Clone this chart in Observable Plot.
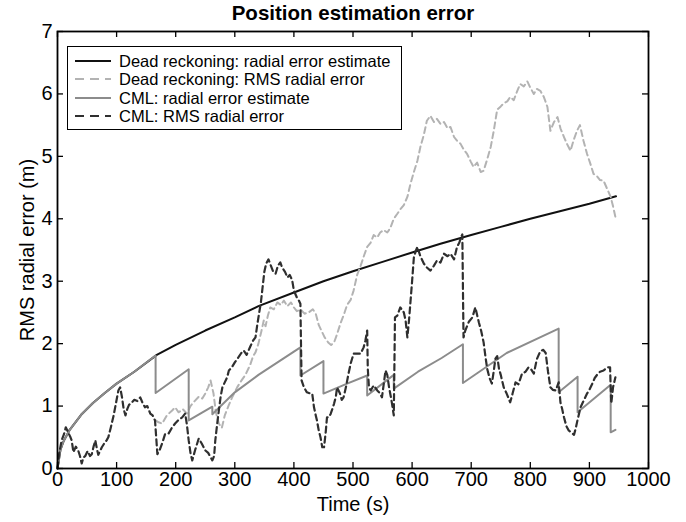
<!DOCTYPE html>
<html>
<head>
<meta charset="utf-8">
<script src="https://cdn.jsdelivr.net/npm/d3@7"></script>
<script src="https://cdn.jsdelivr.net/npm/@observablehq/plot@0.6"></script>
<style>
  body { margin: 0; background: #fff; }
  #wrap { position: relative; width: 686px; height: 522px; font-family: "Liberation Sans", Arial, Helvetica, sans-serif; }
  #legend { position: absolute; left: 67px; top: 46px; width: 335px; height: 84px; border: 1px solid #000; background: #fff; box-sizing: border-box; }
  #legend .row { position: absolute; left: 0; height: 18px; display: flex; align-items: center; font-size: 16.5px; color: #000; white-space: nowrap; }
  #legend svg { margin-left: 7px; margin-right: 8px; }
</style>
</head>
<body>
<div id="wrap"></div>
<script>
// Time axis ticks (s) and error axis ticks (m)
const xTicks = [0, 100, 200, 300, 400, 500, 600, 700, 800, 900, 1000];
const yTicks = [0, 1, 2, 3, 4, 5, 6, 7];

const titleText = "Position estimation error";
const xLabel = "Time (s)";
const yLabel = "RMS radial error (m)";

const seriesNames = [
  "Dead reckoning: radial error estimate",
  "Dead reckoning: RMS radial error",
  "CML: radial error estimate",
  "CML: RMS radial error"
];

// Dead reckoning: radial error estimate
const drEstT = [0, 5, 10, 20, 40, 60, 80, 100, 130, 168, 200, 250, 300, 340, 400, 450, 500, 550, 600, 648, 700, 750, 800, 850, 900, 945];
const drEstV = [0, 0.30, 0.43, 0.61, 0.86, 1.05, 1.21, 1.36, 1.55, 1.82, 1.98, 2.21, 2.42, 2.60, 2.82, 3.00, 3.16, 3.31, 3.46, 3.60, 3.74, 3.87, 4.00, 4.12, 4.24, 4.36];

// Dead reckoning: RMS radial error (after the first CML update it separates from the CML run)
const drRmsT = [166, 171, 177, 185, 194, 199, 205, 212, 219, 225, 232, 239, 245, 250, 255, 259, 264, 268, 273, 278, 283, 290, 296, 304, 312, 318, 326, 331, 335, 340, 345, 349, 352, 356, 360, 366, 372, 378, 383, 389, 395, 400, 405, 411, 418, 425, 432, 437, 442, 447, 452, 458, 463, 468, 473, 479, 484, 490, 496, 501, 507, 513, 519, 524, 530, 535, 541, 546, 552, 558, 563, 569, 575, 580, 586, 592, 597, 603, 609, 614, 620, 625, 631, 637, 642, 648, 654, 660, 665, 671, 676, 682, 688, 693, 699, 704, 710, 716, 721, 727, 733, 738, 744, 750, 755, 761, 766, 772, 778, 783, 789, 795, 800, 806, 811, 817, 823, 829, 834, 840, 846, 851, 857, 862, 868, 873, 879, 884, 890, 896, 901, 907, 913, 918, 924, 930, 936, 940, 944];
const drRmsV = [0.77, 0.74, 0.72, 0.85, 0.93, 0.98, 0.90, 0.95, 0.88, 1.00, 1.08, 1.15, 1.12, 1.20, 1.30, 1.41, 1.20, 0.90, 0.72, 0.65, 0.85, 1.02, 1.15, 1.30, 1.42, 1.50, 1.66, 1.80, 1.86, 2.00, 2.20, 2.37, 2.28, 2.45, 2.58, 2.55, 2.66, 2.62, 2.69, 2.60, 2.66, 2.58, 2.52, 2.55, 2.48, 2.50, 2.55, 2.48, 2.30, 2.20, 2.10, 2.02, 1.98, 2.02, 2.15, 2.33, 2.45, 2.62, 2.70, 2.85, 3.10, 3.25, 3.42, 3.55, 3.62, 3.74, 3.70, 3.78, 3.82, 3.78, 3.85, 4.00, 4.08, 4.15, 4.22, 4.35, 4.55, 4.75, 4.93, 5.15, 5.35, 5.57, 5.65, 5.55, 5.60, 5.52, 5.55, 5.45, 5.47, 5.31, 5.25, 5.20, 5.10, 5.04, 4.92, 4.83, 4.90, 4.75, 4.77, 4.95, 5.15, 5.40, 5.75, 5.80, 5.85, 5.88, 5.95, 5.90, 6.05, 6.16, 6.12, 6.20, 6.10, 6.00, 6.08, 6.05, 5.95, 5.79, 5.41, 5.55, 5.63, 5.45, 5.31, 5.20, 5.09, 5.25, 5.41, 5.50, 5.25, 5.04, 4.90, 4.72, 4.68, 4.62, 4.61, 4.48, 4.35, 4.20, 4.03];

// CML: radial error estimate (sawtooth: drops at each feature update)
const cmlEstT = [0, 5, 10, 20, 40, 60, 80, 100, 130, 166, 166, 222, 222, 262, 262, 300, 340, 411, 411, 450, 450, 490, 524, 524, 569, 569, 610, 650, 686, 686, 760, 848, 848, 880, 880, 936, 936, 944];
const cmlEstV = [0, 0.30, 0.43, 0.61, 0.86, 1.05, 1.21, 1.36, 1.55, 1.81, 1.21, 1.59, 0.77, 0.99, 0.87, 1.22, 1.50, 1.94, 1.49, 1.72, 1.20, 1.36, 1.49, 1.17, 1.50, 1.28, 1.55, 1.77, 1.99, 1.37, 1.85, 2.24, 1.22, 1.47, 0.90, 1.34, 0.58, 0.62];

// CML: RMS radial error
const cmlRmsT = [0, 3, 7, 11, 14, 18, 22, 24, 27, 31, 35, 38, 41, 44, 47, 51, 55, 58, 61, 64, 67, 69, 72, 75, 79, 83, 86, 90, 95, 99, 103, 106, 109, 112, 115, 118, 121, 125, 130, 135, 140, 144, 148, 152, 157, 161, 165, 167, 169, 173, 177, 182, 188, 194, 199, 205, 211, 216, 219, 222, 225, 228, 233, 239, 244, 250, 255, 262, 265, 267, 270, 273, 276, 279, 283, 287, 290, 295, 300, 306, 311, 315, 320, 326, 331, 335, 338, 341, 344, 347, 350, 353, 357, 361, 365, 369, 373, 377, 380, 385, 389, 393, 397, 400, 405, 409, 411, 412, 413, 417, 422, 428, 431, 434, 437, 439, 442, 445, 448, 451, 454, 456, 459, 462, 465, 468, 471, 473, 478, 481, 484, 488, 492, 496, 501, 507, 513, 518, 521, 524, 525, 527, 530, 535, 541, 546, 549, 552, 555, 558, 561, 564, 566, 569, 570, 571, 575, 580, 586, 589, 592, 595, 597, 600, 603, 606, 609, 614, 620, 625, 631, 637, 642, 648, 654, 660, 665, 671, 676, 680, 683, 685, 686, 687, 690, 696, 702, 707, 713, 717, 721, 724, 727, 731, 735, 738, 741, 744, 747, 750, 755, 760, 766, 770, 775, 780, 786, 792, 797, 802, 806, 811, 817, 822, 826, 830, 834, 838, 843, 848, 851, 854, 857, 861, 865, 869, 874, 877, 880, 885, 890, 896, 901, 905, 909, 913, 918, 924, 930, 935, 936, 937, 940, 944];
const cmlRmsV = [0.00, 0.25, 0.45, 0.55, 0.66, 0.58, 0.50, 0.45, 0.26, 0.35, 0.29, 0.20, 0.08, 0.18, 0.20, 0.28, 0.20, 0.23, 0.35, 0.45, 0.30, 0.22, 0.28, 0.34, 0.40, 0.45, 0.50, 0.65, 0.85, 1.05, 1.25, 1.30, 1.15, 0.95, 0.85, 0.95, 1.02, 1.05, 1.10, 1.08, 1.14, 1.05, 0.98, 1.00, 0.88, 0.85, 0.77, 0.50, 0.23, 0.30, 0.40, 0.55, 0.56, 0.66, 0.72, 0.78, 0.82, 0.88, 0.70, 0.45, 0.25, 0.13, 0.30, 0.48, 0.40, 0.29, 0.25, 0.13, 0.20, 0.45, 0.70, 0.93, 1.15, 1.30, 1.38, 1.46, 1.57, 1.62, 1.70, 1.78, 1.85, 1.89, 1.82, 1.95, 2.05, 2.10, 2.30, 2.48, 2.65, 2.90, 3.15, 3.28, 3.35, 3.25, 3.15, 3.12, 3.25, 3.30, 3.22, 3.15, 3.06, 3.10, 3.02, 2.85, 2.74, 2.68, 2.64, 2.00, 1.41, 1.30, 1.22, 1.20, 1.20, 0.98, 0.85, 0.77, 0.61, 0.50, 0.34, 0.34, 0.60, 0.82, 0.82, 0.87, 0.95, 1.04, 1.15, 1.30, 1.20, 1.10, 1.14, 1.30, 1.50, 1.68, 1.84, 1.84, 1.84, 1.94, 2.05, 2.21, 1.60, 1.30, 1.25, 1.33, 1.25, 1.20, 1.14, 1.35, 1.57, 1.50, 1.30, 1.15, 1.04, 0.85, 1.60, 2.42, 2.45, 2.58, 2.50, 2.37, 2.10, 2.40, 2.64, 3.00, 3.38, 3.48, 3.55, 3.40, 3.28, 3.22, 3.17, 3.25, 3.33, 3.30, 3.44, 3.40, 3.44, 3.35, 3.55, 3.62, 3.71, 3.75, 2.90, 2.10, 2.21, 2.35, 2.42, 2.58, 2.34, 2.20, 2.02, 1.80, 1.60, 1.45, 1.36, 1.55, 1.76, 1.80, 1.60, 1.50, 1.30, 1.20, 1.06, 1.20, 1.38, 1.35, 1.52, 1.55, 1.62, 1.58, 1.52, 1.75, 1.88, 1.90, 1.85, 1.55, 1.30, 1.26, 1.25, 1.38, 1.06, 0.95, 0.82, 0.68, 0.61, 0.58, 0.54, 0.65, 0.78, 0.98, 1.08, 1.20, 1.28, 1.36, 1.45, 1.50, 1.55, 1.57, 1.62, 1.62, 1.30, 1.04, 1.30, 1.46];

const seriesColors = ["#111111", "#b3b3b3", "#8c8c8c", "#2f2f2f"];
const seriesDash = [null, "6,4", null, "6,4"];

const toRows = (ts, vs) => ts.map((t, i) => ({t, v: vs[i]}));
const drEst = toRows(drEstT, drEstV);
const drRms = toRows(drRmsT, drRmsV);
const cmlEst = toRows(cmlEstT, cmlEstV);
const cmlRms = toRows(cmlRmsT, cmlRmsV);

const W = 686, H = 522, mt = 31, mb = 54, ml = 57, mr = 38;
const innerW = W - ml - mr, innerH = H - mt - mb;
const tickLen = 6;
const font = "'Liberation Sans', Arial, Helvetica, sans-serif";

const chart = Plot.plot({
  width: W,
  height: H,
  marginTop: mt,
  marginBottom: mb,
  marginLeft: ml,
  marginRight: mr,
  style: {fontFamily: font, background: "#fff", color: "#000", overflow: "visible"},
  x: {domain: [0, 1000]},
  y: {domain: [0, 7]},
  marks: [
    Plot.line(drEst, {x: "t", y: "v", stroke: seriesColors[0], strokeWidth: 2}),
    Plot.line(drRms, {x: "t", y: "v", stroke: seriesColors[1], strokeWidth: 2, strokeDasharray: seriesDash[1]}),
    Plot.line(cmlEst, {x: "t", y: "v", stroke: seriesColors[2], strokeWidth: 2}),
    Plot.line(cmlRms, {x: "t", y: "v", stroke: seriesColors[3], strokeWidth: 2.2, strokeDasharray: seriesDash[3]}),
    // inward ticks on all four sides of the box
    Plot.tickX(xTicks, {x: d => d, insetTop: innerH - tickLen, stroke: "#000", strokeWidth: 1.3}),
    Plot.tickX(xTicks, {x: d => d, insetBottom: innerH - tickLen, stroke: "#000", strokeWidth: 1.3}),
    Plot.tickY(yTicks, {y: d => d, insetRight: innerW - tickLen, stroke: "#000", strokeWidth: 1.3}),
    Plot.tickY(yTicks, {y: d => d, insetLeft: innerW - tickLen, stroke: "#000", strokeWidth: 1.3}),
    Plot.axisX(xTicks, {tickSize: 0, tickPadding: 3, fontSize: 20, tickFormat: d => String(d), label: null}),
    Plot.axisY(yTicks, {tickSize: 0, tickPadding: 5, fontSize: 20, tickFormat: d => String(d), label: null}),
    Plot.frame({stroke: "#000", strokeWidth: 1.8}),
    Plot.text([titleText], {text: d => d, frameAnchor: "top", lineAnchor: "middle", dy: -18, fontSize: 20.5, fontWeight: "bold"}),
    Plot.text([xLabel], {text: d => d, frameAnchor: "bottom", lineAnchor: "middle", dy: 36, fontSize: 20}),
    Plot.text([yLabel], {text: d => d, frameAnchor: "left", textAnchor: "middle", dx: -30, rotate: -90, fontSize: 20})
  ]
});

const wrap = document.getElementById("wrap");
wrap.appendChild(chart);

// Legend box over the upper-left corner of the axes
const legend = document.createElement("div");
legend.id = "legend";
const rowTops = [5, 23, 42, 60];
seriesNames.forEach((name, i) => {
  const row = document.createElement("div");
  row.className = "row";
  row.style.top = rowTops[i] + "px";
  const ns = "http://www.w3.org/2000/svg";
  const s = document.createElementNS(ns, "svg");
  s.setAttribute("width", 36);
  s.setAttribute("height", 6);
  const ln = document.createElementNS(ns, "line");
  ln.setAttribute("x1", 0); ln.setAttribute("x2", 36);
  ln.setAttribute("y1", 3); ln.setAttribute("y2", 3);
  ln.setAttribute("stroke", seriesColors[i]);
  ln.setAttribute("stroke-width", 2);
  if (seriesDash[i]) ln.setAttribute("stroke-dasharray", "9,6");
  s.appendChild(ln);
  row.appendChild(s);
  const label = document.createElement("span");
  label.textContent = name;
  row.appendChild(label);
  legend.appendChild(row);
});
wrap.appendChild(legend);
</script>
</body>
</html>
